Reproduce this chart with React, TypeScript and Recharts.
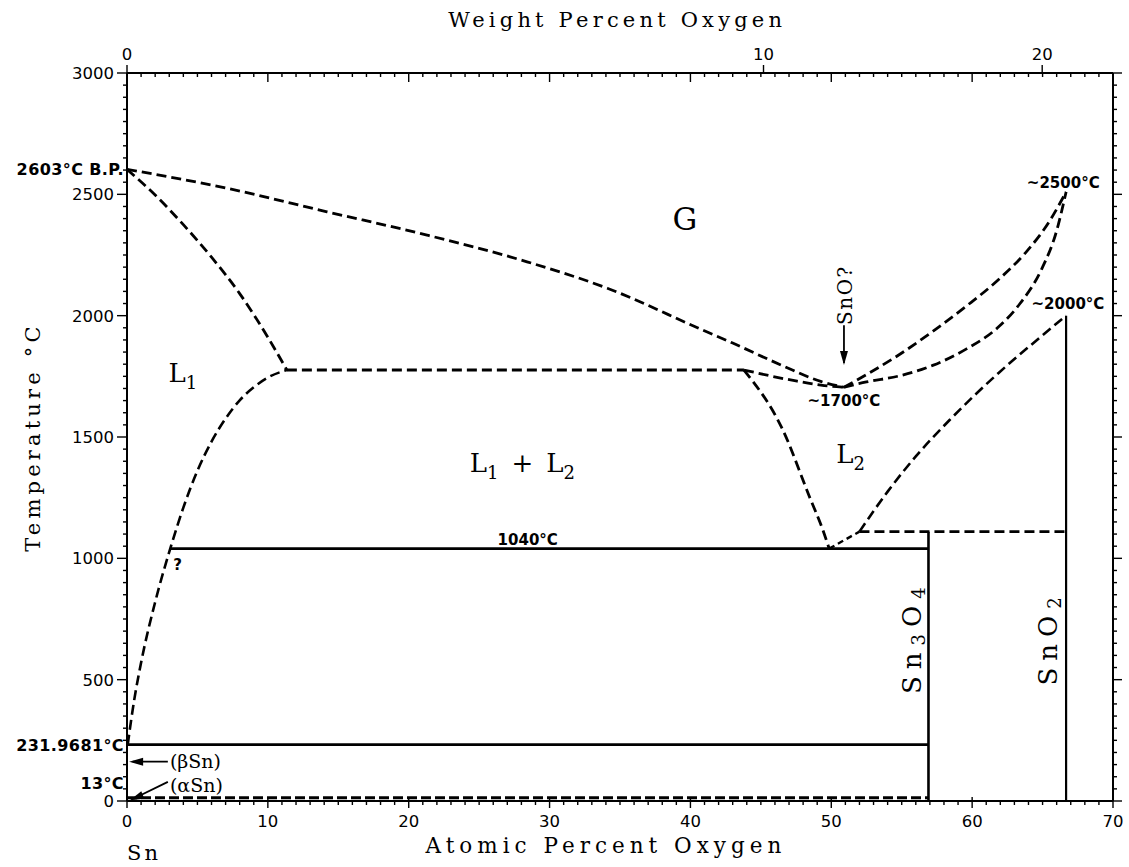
import { ComposedChart, Line, XAxis, YAxis, ReferenceDot } from "recharts"

const WIDTH = 1129
const HEIGHT = 867

// phase boundaries, each point is [atomic % O, temperature °C]
const gasL1 = [
  [0, 2603], [7.1, 2525], [14.2, 2428], [21.3, 2332], [28.4, 2222], [34.1, 2113],
  [40.7, 1945], [43.0, 1887], [46.5, 1795], [49.3, 1728], [50.9, 1705],
]
const gasL1Left = [[0, 2603], [2, 2497], [4, 2375], [6, 2241], [8, 2091], [10, 1911], [11.35, 1776]]
const l1Liquidus = [
  [0.05, 232], [0.5, 412], [1, 570], [2, 820], [3.07, 1040], [4, 1209], [5, 1361],
  [6, 1481], [7, 1576], [8, 1651], [9, 1705], [10, 1745], [11.35, 1776],
]
const monotectic = [[11.35, 1776], [43.8, 1776]]
const l2Left = [[43.8, 1776], [46.56, 1529], [48.45, 1254], [49.4, 1117], [49.85, 1040]]
const l2Top = [[43.8, 1776], [47.3, 1733], [49.5, 1712], [50.9, 1705]]
const l2Foot = [[49.85, 1040], [52, 1110]]
const l2Right = [[52, 1110], [54, 1275], [56, 1420], [58.4, 1570], [61.9, 1765], [64.5, 1895], [66.67, 2000]]
const gasUpperRight = [
  [50.9, 1705], [52.5, 1757], [54.84, 1840], [57.2, 1935], [59.6, 2040],
  [61.9, 2150], [63.8, 2260], [65.5, 2390], [66.67, 2510],
]
const gasLowerRight = [
  [50.9, 1705], [52.5, 1727], [54.84, 1752], [57.2, 1795], [59.57, 1862],
  [61.9, 1955], [63.4, 2050], [64.92, 2190], [66.0, 2350], [66.67, 2510],
]
const peritectic = [[52, 1110], [66.67, 1110]]
const eutectic1040 = [[3.07, 1040], [56.9, 1040]]
const sn3o4Line = [[56.9, 0], [56.9, 1110]]
const sno2Line = [[66.67, 0], [66.67, 2000]]
const betaLine = [[0, 232], [56.9, 232]]
const alphaLine = [[0, 13], [56.9, 13]]

// arrows for labels
const snoArrow = [[50.9, 1960], [50.9, 1805]]
const betaArrow = [[0.4, 162], [2.9, 162]]
const alphaArrow = [[0.45, 9], [2.9, 79]]

// axis ticks
const tempLabels = [0, 500, 1000, 1500, 2000, 2500, 3000]
const tempSpecial = [13, 231.9681, 2603]
const tempSpecialText = ["13°C", "231.9681°C", "2603°C B.P."]
const atomicLabels = [0, 10, 20, 30, 40, 50, 60, 70]
const weightLabels = [0, 10, 20]

function range(from: number, to: number, step: number) {
  const out: number[] = []
  for (let v = from; v <= to + 1e-9; v += step) out.push(v)
  return out
}

// weight % O -> atomic % O (Sn 118.71, O 15.999)
function weightToAtomic(w: number) {
  const o = w / 15.999
  const sn = (100 - w) / 118.71
  return (100 * o) / (o + sn)
}

const weightTickPos = weightLabels.map(weightToAtomic)
const tempTicks = [...range(0, 3000, 50), ...tempSpecial].sort((a, b) => a - b)
const atomicTicks = range(0, 70, 1)
const topTicks = [...atomicTicks, ...weightTickPos.filter((v) => !Number.isInteger(v))]
const rightTicks = range(0, 3000, 50)

const SANS = "DejaVu Sans"
const SERIF = "DejaVu Serif"

function LeftTick(props: any) {
  const { x, y, payload } = props
  const v = payload.value
  const k = tempSpecial.indexOf(v)
  if (k >= 0) {
    const dy = v === 13 ? -9 : 6
    return (
      <text x={x - 3} y={y + dy} textAnchor="end" fontFamily={SANS} fontWeight="bold" fontSize={16} letterSpacing={0.4} fill="#000">
        {tempSpecialText[k]}
      </text>
    )
  }
  const major = v % 500 === 0
  return (
    <g>
      <line x1={x - (major ? 10 : 4)} x2={x} y1={y} y2={y} stroke="#000" strokeWidth={1.4} />
      {tempLabels.includes(v) && (
        <text x={x - 13} y={y + 6} textAnchor="end" fontFamily={SANS} fontSize={16.5} fill="#000">
          {v}
        </text>
      )}
    </g>
  )
}

function RightTick(props: any) {
  const { x, y, payload } = props
  const major = payload.value % 500 === 0
  return <line x1={x} x2={x + (major ? 9 : 4)} y1={y} y2={y} stroke="#000" strokeWidth={1.4} />
}

function BottomTick(props: any) {
  const { x, y, payload } = props
  const v = payload.value
  const major = v % 10 === 0
  return (
    <g>
      <line x1={x} x2={x} y1={major ? y - 4 : y} y2={y + (major ? 7 : 4)} stroke="#000" strokeWidth={1.4} />
      {atomicLabels.includes(v) && (
        <text x={x} y={y + 26} textAnchor="middle" fontFamily={SANS} fontSize={16.5} fill="#000">
          {v}
        </text>
      )}
    </g>
  )
}

function TopTick(props: any) {
  const { x, y, payload } = props
  const v = payload.value
  const wi = weightTickPos.findIndex((p) => Math.abs(p - v) < 1e-6)
  return (
    <g>
      {Number.isInteger(v) && (
        <line x1={x} x2={x} y1={y} y2={y + (v % 10 === 0 ? 9 : 4)} stroke="#000" strokeWidth={1.4} />
      )}
      {wi >= 0 && <line x1={x} x2={x} y1={y} y2={y - 8} stroke="#000" strokeWidth={1.4} />}
      {wi >= 0 && (
        <text x={x} y={y - 13} textAnchor="middle" fontFamily={SANS} fontSize={16.5} fill="#000">
          {weightLabels[wi]}
        </text>
      )}
    </g>
  )
}

function boundary(key: string, pts: number[][], opts: { dash?: string; width?: number; smooth?: boolean } = {}) {
  return (
    <Line
      key={key}
      data={pts.map(([x, t]) => ({ x, t }))}
      dataKey="t"
      xAxisId="at"
      yAxisId="T"
      type={opts.smooth ? "monotone" : "linear"}
      stroke="#000"
      strokeWidth={opts.width ?? 2.8}
      strokeDasharray={opts.dash}
      dot={false}
      activeDot={false}
      legendType="none"
      isAnimationActive={false}
    />
  )
}

function note(key: string, x: number, t: number, draw: (cx: number, cy: number) => any) {
  return (
    <ReferenceDot
      key={key}
      x={x}
      y={t}
      xAxisId="at"
      yAxisId="T"
      r={1}
      ifOverflow="visible"
      shape={(p: any) => draw(p.cx, p.cy)}
    />
  )
}

function arrowHead(key: string, x: number, t: number, angle: number) {
  return note(key, x, t, (cx, cy) => (
    <polygon
      points="0,0 -14,-4 -14,4"
      transform={`translate(${cx},${cy}) rotate(${angle})`}
      fill="#000"
    />
  ))
}

const DASH = "10 5"

export default function App() {
  return (
    <div style={{ position: "absolute", left: 0, top: 0, width: WIDTH, height: HEIGHT, background: "#fff" }}>
      <ComposedChart width={WIDTH} height={HEIGHT} margin={{ top: 0, right: 0, bottom: 0, left: 0 }}>
        <XAxis
          xAxisId="at"
          dataKey="x"
          type="number"
          domain={[0, 70]}
          ticks={atomicTicks}
          interval={0}
          tick={BottomTick}
          tickLine={false}
          tickSize={0}
          tickMargin={0}
          height={66}
          axisLine={{ stroke: "#000", strokeWidth: 2 }}
          allowDataOverflow
        />
        <XAxis
          xAxisId="wt"
          orientation="top"
          dataKey="x"
          type="number"
          domain={[0, 70]}
          ticks={topTicks}
          interval={0}
          tick={TopTick}
          tickLine={false}
          tickSize={0}
          tickMargin={0}
          height={73}
          axisLine={{ stroke: "#000", strokeWidth: 2 }}
          allowDataOverflow
        />
        <YAxis
          yAxisId="T"
          type="number"
          domain={[0, 3000]}
          ticks={tempTicks}
          interval={0}
          tick={LeftTick}
          tickLine={false}
          tickSize={0}
          tickMargin={0}
          width={127}
          axisLine={{ stroke: "#000", strokeWidth: 2 }}
          allowDataOverflow
        />
        <YAxis
          yAxisId="Tr"
          orientation="right"
          type="number"
          domain={[0, 3000]}
          ticks={rightTicks}
          interval={0}
          tick={RightTick}
          tickLine={false}
          tickSize={0}
          tickMargin={0}
          width={16}
          axisLine={{ stroke: "#000", strokeWidth: 2 }}
          allowDataOverflow
        />

        {boundary("gasL1", gasL1, { dash: DASH, smooth: true })}
        {boundary("gasL1Left", gasL1Left, { dash: DASH, smooth: true })}
        {boundary("l1Liquidus", l1Liquidus, { dash: DASH, smooth: true, width: 2.6 })}
        {boundary("monotectic", monotectic, { dash: DASH })}
        {boundary("l2Left", l2Left, { dash: DASH, smooth: true })}
        {boundary("l2Top", l2Top, { dash: DASH, smooth: true })}
        {boundary("l2Foot", l2Foot, { dash: "6 4", width: 2.4 })}
        {boundary("l2Right", l2Right, { dash: DASH, smooth: true, width: 2.6 })}
        {boundary("gasUpperRight", gasUpperRight, { dash: DASH, smooth: true })}
        {boundary("gasLowerRight", gasLowerRight, { dash: DASH, smooth: true })}
        {boundary("peritectic", peritectic, { dash: DASH })}
        {boundary("eutectic1040", eutectic1040, { width: 2.8 })}
        {boundary("sn3o4Line", sn3o4Line, { width: 2.6 })}
        {boundary("sno2Line", sno2Line, { width: 2.2 })}
        {boundary("betaLine", betaLine, { width: 2.8 })}
        {boundary("alphaLine", alphaLine, { dash: "10 4", width: 3 })}
        {boundary("snoArrow", snoArrow, { width: 1.8 })}
        {boundary("betaArrow", betaArrow, { width: 1.8 })}
        {boundary("alphaArrow", alphaArrow, { width: 1.8 })}

        {arrowHead("snoHead", 50.9, 1797, 90)}
        {arrowHead("betaHead", 0.15, 162, 180)}
        {arrowHead("alphaHead", 0.2, 3, 158)}

        {note("titleTop", 34.8, 3189, (cx, cy) => (
          <text x={cx} y={cy} textAnchor="middle" fontFamily={SERIF} fontSize={21} letterSpacing={4.2} fill="#000">
            Weight Percent Oxygen
          </text>
        ))}
        {note("titleBottom", 34.0, -213, (cx, cy) => (
          <text x={cx} y={cy} textAnchor="middle" fontFamily={SERIF} fontSize={21.5} letterSpacing={5} fill="#000">
            Atomic Percent Oxygen
          </text>
        ))}
        {note("sn", 0.0, -243, (cx, cy) => (
          <text x={cx} y={cy} fontFamily={SERIF} fontSize={21} letterSpacing={3} fill="#000">
            Sn
          </text>
        ))}
        {note("titleLeft", -6.2, 1500, (cx, cy) => (
          <text
            transform={`translate(${cx},${cy}) rotate(-90)`}
            textAnchor="middle"
            fontFamily={SERIF}
            fontSize={21}
            letterSpacing={4.2}
            fill="#000"
          >
            Temperature °C
          </text>
        ))}
        {note("G", 39.6, 2353, (cx, cy) => (
          <text x={cx} y={cy} textAnchor="middle" fontFamily={SERIF} fontSize={31} fill="#000">
            G
          </text>
        ))}
        {note("L1", 2.95, 1727, (cx, cy) => (
          <text x={cx} y={cy} fontFamily={SERIF} fontSize={26} fill="#000">
            L<tspan dy={7} fontSize={18}>1</tspan>
          </text>
        ))}
        {note("L1L2", 24.33, 1357, (cx, cy) => (
          <text x={cx} y={cy} fontFamily={SERIF} fontSize={26} fill="#000">
            L<tspan dy={7} fontSize={18}>1</tspan>
            <tspan dy={-7} dx={13}>+</tspan>
            <tspan dx={13}>L</tspan>
            <tspan dy={7} fontSize={18}>2</tspan>
          </text>
        ))}
        {note("L2", 50.35, 1391, (cx, cy) => (
          <text x={cx} y={cy} fontFamily={SERIF} fontSize={26} fill="#000">
            L<tspan dy={7} fontSize={18}>2</tspan>
          </text>
        ))}
        {note("t1040", 28.45, 1055, (cx, cy) => (
          <text x={cx} y={cy} textAnchor="middle" fontFamily={SANS} fontWeight="bold" fontSize={15} fill="#000">
            1040°C
          </text>
        ))}
        {note("t1700", 50.9, 1628, (cx, cy) => (
          <text x={cx} y={cy} textAnchor="middle" fontFamily={SANS} fontWeight="bold" fontSize={15} fill="#000">
            ~1700°C
          </text>
        ))}
        {note("t2500", 66.47, 2526, (cx, cy) => (
          <text x={cx} y={cy} textAnchor="middle" fontFamily={SANS} fontWeight="bold" fontSize={15} fill="#000">
            ~2500°C
          </text>
        ))}
        {note("t2000", 66.8, 2027, (cx, cy) => (
          <text x={cx} y={cy} textAnchor="middle" fontFamily={SANS} fontWeight="bold" fontSize={15} fill="#000">
            ~2000°C
          </text>
        ))}
        {note("question", 3.6, 952, (cx, cy) => (
          <text x={cx} y={cy} textAnchor="middle" fontFamily={SANS} fontWeight="bold" fontSize={15} fill="#000">
            ?
          </text>
        ))}
        {note("sno", 51.0, 2085, (cx, cy) => (
          <text
            transform={`translate(${cx},${cy}) rotate(-90)`}
            textAnchor="middle"
            dominantBaseline="central"
            fontFamily={SERIF}
            fontSize={20}
            letterSpacing={1.5}
            fill="#000"
          >
            SnO?
          </text>
        ))}
        {note("sn3o4", 55.7, 675, (cx, cy) => (
          <text
            transform={`translate(${cx},${cy}) rotate(-90)`}
            textAnchor="middle"
            dominantBaseline="central"
            fontFamily={SERIF}
            fontSize={26}
            letterSpacing={7}
            fill="#000"
          >
            Sn<tspan dy={6} fontSize={18}>3</tspan>
            <tspan dy={-6}>O</tspan>
            <tspan dy={6} fontSize={18}>4</tspan>
          </text>
        ))}
        {note("sno2", 65.4, 672, (cx, cy) => (
          <text
            transform={`translate(${cx},${cy}) rotate(-90)`}
            textAnchor="middle"
            dominantBaseline="central"
            fontFamily={SERIF}
            fontSize={26}
            letterSpacing={7}
            fill="#000"
          >
            SnO<tspan dy={6} fontSize={18}>2</tspan>
          </text>
        ))}
        {note("beta", 3.05, 136, (cx, cy) => (
          <text x={cx} y={cy} fontFamily={SERIF} fontSize={19} fill="#000">
            (βSn)
          </text>
        ))}
        {note("alpha", 3.05, 37, (cx, cy) => (
          <text x={cx} y={cy} fontFamily={SERIF} fontSize={19} fill="#000">
            (αSn)
          </text>
        ))}
      </ComposedChart>
    </div>
  )
}
